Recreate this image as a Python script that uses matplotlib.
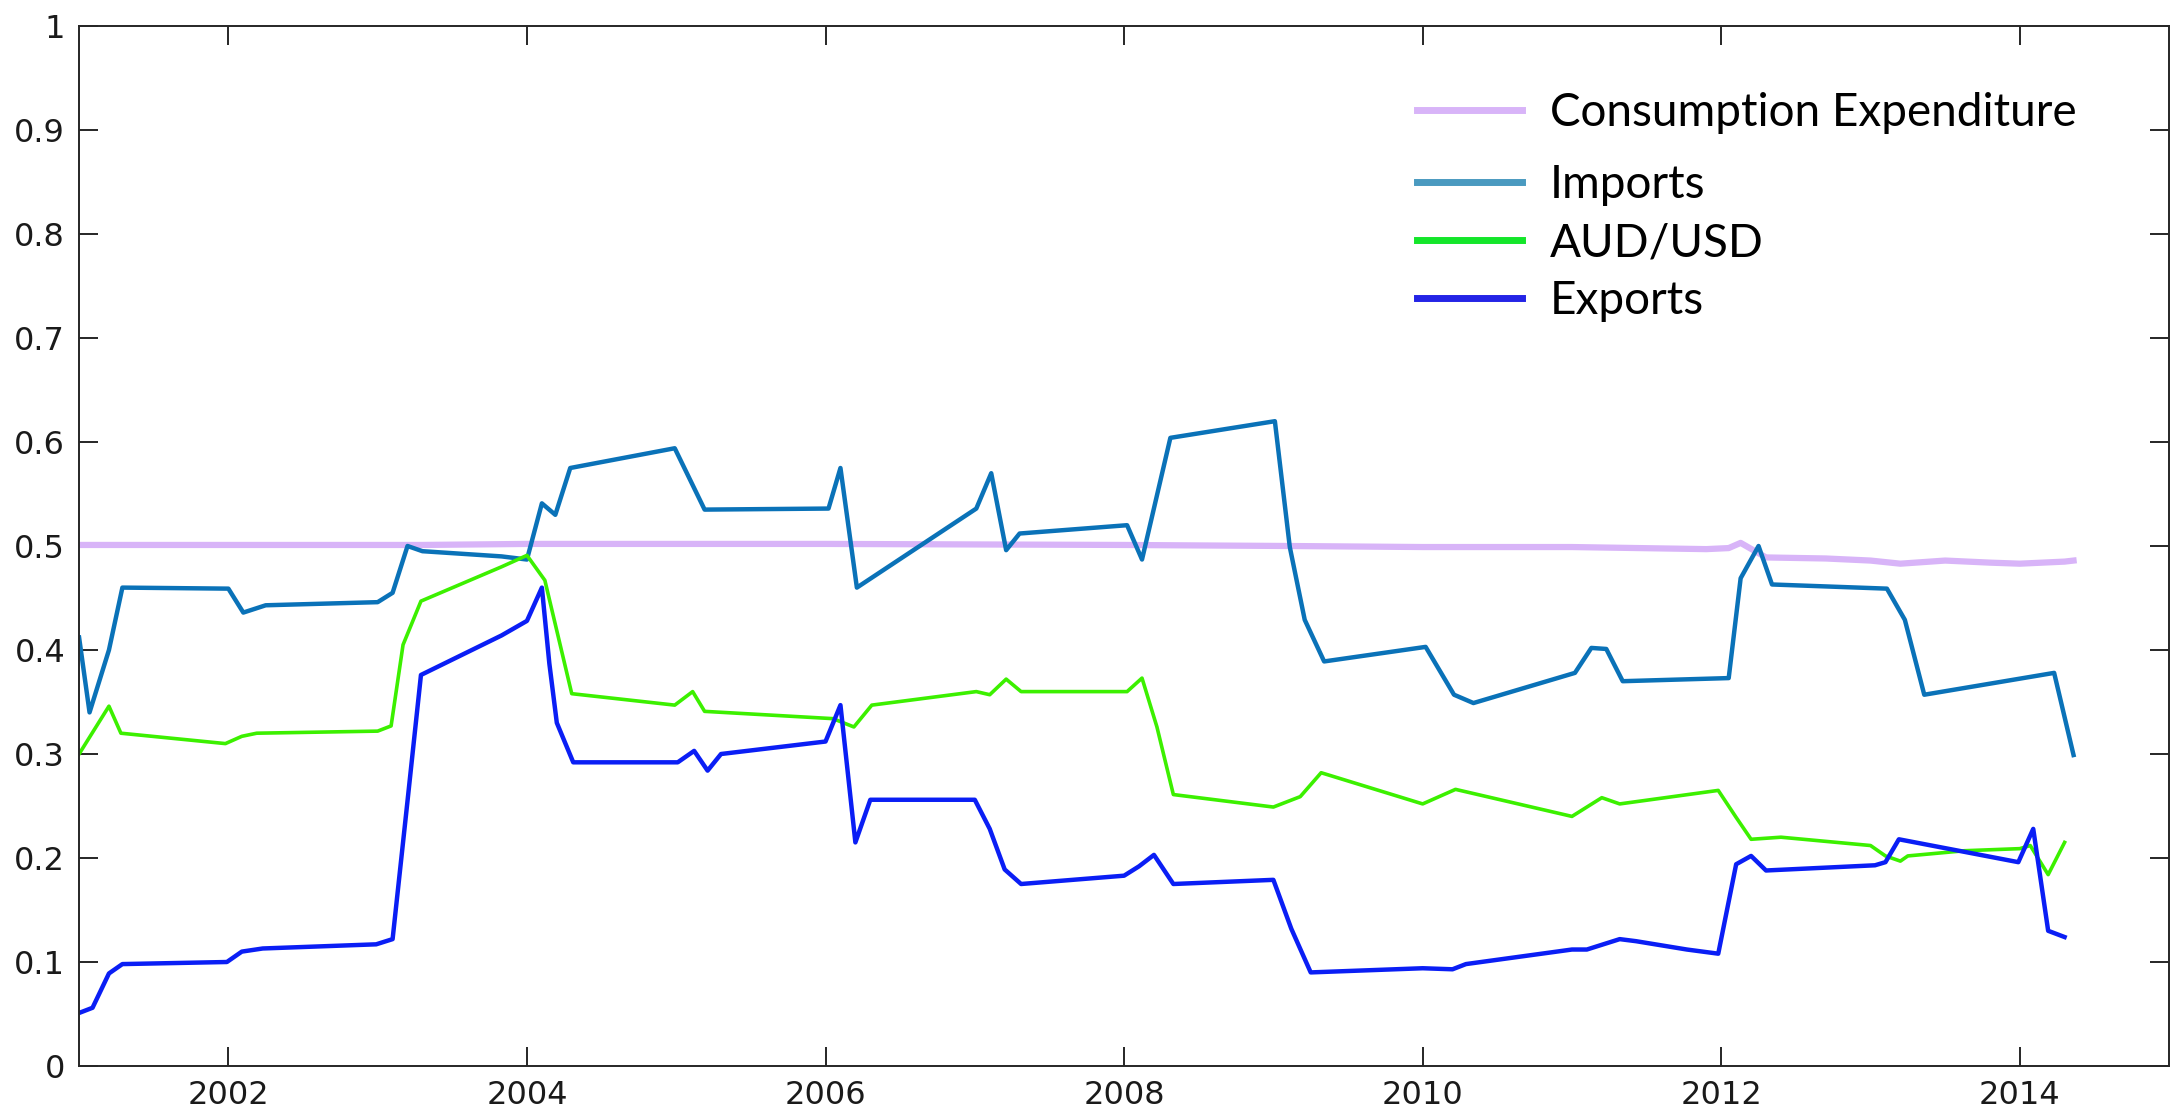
import matplotlib
matplotlib.use("Agg")
import matplotlib.pyplot as plt
from matplotlib.ticker import FormatStrFormatter

# decimal-year sample dates and normalised values for each series
cons_t = [2001.0, 2003.3, 2004.0, 2006.0, 2008.0, 2009.1, 2010.0, 2011.0, 2011.9,
          2012.05, 2012.13, 2012.3, 2012.7, 2013.0, 2013.2, 2013.5, 2013.8, 2014.0,
          2014.3, 2014.36]
cons_v = [0.501, 0.501, 0.502, 0.502, 0.501, 0.500, 0.499, 0.499, 0.497,
          0.498, 0.503, 0.489, 0.488, 0.486, 0.483, 0.486, 0.484, 0.483,
          0.485, 0.486]

imp_t = [2001.0, 2001.07, 2001.2, 2001.29, 2002.0, 2002.1, 2002.25, 2003.0, 2003.1,
         2003.2, 2003.3, 2003.83, 2004.0, 2004.1, 2004.19, 2004.29, 2004.99, 2005.19,
         2006.02, 2006.1, 2006.21, 2007.01, 2007.11, 2007.21, 2007.3, 2008.02, 2008.12,
         2008.31, 2009.01, 2009.11, 2009.21, 2009.34, 2010.02, 2010.21, 2010.34,
         2011.02, 2011.13, 2011.23, 2011.34, 2012.05, 2012.13, 2012.25, 2012.34,
         2013.11, 2013.23, 2013.36, 2014.23, 2014.36]
imp_v = [0.412, 0.340, 0.400, 0.460, 0.459, 0.436, 0.443, 0.446, 0.455,
         0.500, 0.495, 0.490, 0.487, 0.541, 0.530, 0.575, 0.594, 0.535,
         0.536, 0.575, 0.460, 0.536, 0.570, 0.496, 0.512, 0.520, 0.487,
         0.604, 0.620, 0.499, 0.429, 0.389, 0.403, 0.357, 0.349,
         0.378, 0.402, 0.401, 0.370, 0.373, 0.469, 0.500, 0.463,
         0.459, 0.429, 0.357, 0.378, 0.299]

aud_t = [2001.0, 2001.2, 2001.28, 2001.98, 2002.09, 2002.19, 2003.0, 2003.09, 2003.17,
         2003.29, 2003.83, 2004.0, 2004.12, 2004.3, 2004.99, 2005.11, 2005.19, 2006.05,
         2006.19, 2006.31, 2007.01, 2007.1, 2007.21, 2007.31, 2008.02, 2008.12, 2008.22,
         2008.33, 2009.0, 2009.18, 2009.32, 2010.0, 2010.22, 2011.0, 2011.2, 2011.32,
         2011.98, 2012.1, 2012.2, 2012.4, 2013.0, 2013.1, 2013.2, 2013.25, 2013.63,
         2014.0, 2014.07, 2014.19, 2014.3]
aud_v = [0.300, 0.346, 0.320, 0.310, 0.317, 0.320, 0.322, 0.327, 0.405,
         0.447, 0.480, 0.491, 0.467, 0.358, 0.347, 0.360, 0.341, 0.334,
         0.326, 0.347, 0.360, 0.357, 0.372, 0.360, 0.360, 0.373, 0.326,
         0.261, 0.249, 0.259, 0.282, 0.252, 0.266, 0.240, 0.258, 0.252,
         0.265, 0.239, 0.218, 0.220, 0.212, 0.202, 0.197, 0.202, 0.207,
         0.209, 0.212, 0.184, 0.215]

exp_t = [2001.0, 2001.09, 2001.2, 2001.29, 2001.99, 2002.09, 2002.23, 2002.99, 2003.1,
         2003.2, 2003.29, 2003.83, 2004.0, 2004.1, 2004.15, 2004.2, 2004.31, 2005.01,
         2005.12, 2005.21, 2005.3, 2006.0, 2006.1, 2006.2, 2006.3, 2007.0, 2007.1,
         2007.2, 2007.31, 2008.0, 2008.1, 2008.2, 2008.33, 2009.0, 2009.12, 2009.25,
         2010.0, 2010.2, 2010.29, 2011.0, 2011.1, 2011.32, 2011.43, 2011.77, 2011.98,
         2012.1, 2012.2, 2012.3, 2013.03, 2013.1, 2013.19, 2013.99, 2014.09, 2014.19,
         2014.3]
exp_v = [0.051, 0.056, 0.089, 0.098, 0.100, 0.110, 0.113, 0.117, 0.122,
         0.255, 0.376, 0.414, 0.428, 0.460, 0.387, 0.330, 0.292, 0.292,
         0.303, 0.284, 0.300, 0.312, 0.347, 0.215, 0.256, 0.256, 0.228,
         0.189, 0.175, 0.183, 0.192, 0.203, 0.175, 0.179, 0.132, 0.090,
         0.094, 0.093, 0.098, 0.112, 0.112, 0.122, 0.120, 0.112, 0.108,
         0.194, 0.202, 0.188, 0.193, 0.196, 0.218, 0.196, 0.228, 0.130,
         0.124]

year_ticks = [2002, 2004, 2006, 2008, 2010, 2012, 2014]
value_ticks = [0, 0.1, 0.2, 0.3, 0.4, 0.5, 0.6, 0.7, 0.8, 0.9, 1]

# legend swatches are drawn in slightly different shades than the lines
swatch_colors = ["#D8B4F8", "#4A9AC0", "#14E62A", "#2424E6"]


def main():
    plt.rcParams["font.family"] = ["Liberation Sans Narrow", "DejaVu Sans"]

    fig = plt.figure(figsize=(21.73, 11.11), dpi=100)
    ax = fig.add_axes([0.0364, 0.0405, 0.9618, 0.9361])

    h_cons, = ax.plot(cons_t, cons_v, color="#D8B4F8", lw=4.5, label="Consumption Expenditure")
    h_imp, = ax.plot(imp_t, imp_v, color="#0A72B8", lw=3.2, label="Imports")
    h_aud, = ax.plot(aud_t, aud_v, color="#3CF000", lw=2.6, label="AUD/USD")
    h_exp, = ax.plot(exp_t, exp_v, color="#0A1EF5", lw=3.2, label="Exports")

    ax.set_xlim(2001, 2015)
    ax.set_ylim(0, 1)
    ax.set_xticks(year_ticks)
    ax.set_yticks(value_ticks)
    ax.yaxis.set_major_formatter(FormatStrFormatter("%g"))
    ax.tick_params(direction="in", length=14, width=1.4, color="#262626",
                   labelsize=23, labelcolor="#1a1a1a", top=True, right=True, pad=10)
    for sp in ax.spines.values():
        sp.set_linewidth(1.4)
        sp.set_color("#262626")

    # legend in two blocks: the first entry sits a little further apart
    leg_kw = dict(frameon=False, prop={"family": ["Lato", "DejaVu Sans"], "size": 33},
                  handlelength=2.3, handletextpad=0.6, labelspacing=0.35,
                  borderpad=0, borderaxespad=0)
    leg1 = ax.legend(handles=[h_cons], loc="center left",
                     bbox_to_anchor=(0.64, 0.916), **leg_kw)
    ax.add_artist(leg1)
    leg2 = ax.legend(handles=[h_imp, h_aud, h_exp], loc="center left",
                     bbox_to_anchor=(0.64, 0.791), **leg_kw)
    swatches = leg1.get_lines() + leg2.get_lines()
    for line, col in zip(swatches, swatch_colors):
        line.set_linewidth(5)
        line.set_color(col)

    fig.savefig("out.png", dpi=100)
    plt.close(fig)


if __name__ == "__main__":
    main()
